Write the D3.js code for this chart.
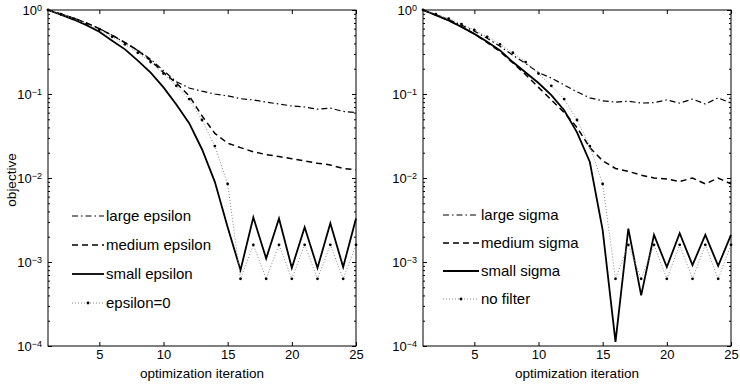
<!DOCTYPE html>
<html lang="en">
<head>
<meta charset="UTF-8">
<title>objective vs optimization iteration</title>
<script src="https://cdnjs.cloudflare.com/ajax/libs/d3/7.8.5/d3.min.js"></script>
<style>
    body { margin: 0; background: #fff; font-family: 'Liberation Sans', Arial, sans-serif; }
    .axis path { display: none; }
    .axis line { stroke: #000; stroke-width: 1; }
    .axis text { font-family: 'Liberation Sans', Arial, sans-serif; font-size: 13px; fill: #000; }
    .lbl { font-size: 13.5px; fill: #000; }
    .leg { font-size: 15px; fill: #000; }
</style>
</head>
<body>
<div id="chart"></div>
<script>
    const iterations = [1, 2, 3, 4, 5, 6, 7, 8, 9, 10, 11, 12, 13, 14, 15, 16, 17, 18, 19, 20, 21, 22, 23, 24, 25];
    const xTicks = [5, 10, 15, 20, 25];
    const yDecades = [1e-4, 1e-3, 1e-2, 1e-1, 1];
    const yExponents = ["\u22124", "\u22123", "\u22122", "\u22121", "0"];

    // left panel: epsilon
    const largeEpsilon = [1.0, 0.9, 0.8, 0.7, 0.6, 0.5, 0.41, 0.33, 0.26, 0.19, 0.14, 0.118, 0.108, 0.1, 0.095, 0.088, 0.085, 0.08, 0.076, 0.072, 0.07, 0.066, 0.068, 0.062, 0.06];
    const mediumEpsilon = [1.0, 0.9, 0.8, 0.7, 0.6, 0.5, 0.41, 0.33, 0.25, 0.18, 0.135, 0.095, 0.055, 0.034, 0.026, 0.023, 0.0205, 0.019, 0.018, 0.017, 0.016, 0.015, 0.0143, 0.013, 0.0125];
    const smallEpsilon = [1.0, 0.88, 0.77, 0.66, 0.55, 0.43, 0.34, 0.25, 0.18, 0.12, 0.075, 0.045, 0.022, 0.009, 0.0026, 0.0008, 0.0034, 0.0011, 0.0033, 0.00085, 0.0026, 0.00085, 0.0029, 0.00087, 0.0033];
    const zeroEpsilon = [1.0, 0.89, 0.79, 0.68, 0.58, 0.48, 0.39, 0.31, 0.24, 0.175, 0.125, 0.087, 0.049, 0.024, 0.0085, 0.00063, 0.0016, 0.00063, 0.0016, 0.00063, 0.0016, 0.00063, 0.0016, 0.00063, 0.0016];

    // right panel: sigma
    const largeSigma = [1.0, 0.88, 0.77, 0.66, 0.56, 0.46, 0.37, 0.29, 0.23, 0.18, 0.155, 0.128, 0.106, 0.09, 0.083, 0.08, 0.082, 0.078, 0.079, 0.085, 0.078, 0.087, 0.076, 0.09, 0.078];
    const mediumSigma = [1.0, 0.87, 0.75, 0.63, 0.52, 0.41, 0.32, 0.235, 0.17, 0.12, 0.085, 0.06, 0.04, 0.023, 0.016, 0.013, 0.012, 0.0108, 0.01, 0.0097, 0.0091, 0.01, 0.0085, 0.01, 0.0085];
    const smallSigma = [1.0, 0.87, 0.75, 0.63, 0.52, 0.42, 0.33, 0.24, 0.18, 0.135, 0.097, 0.064, 0.035, 0.0155, 0.0024, 0.000112, 0.0025, 0.0004, 0.0021, 0.00087, 0.0022, 0.00092, 0.0021, 0.0009, 0.0021];
    const noFilter = [1.0, 0.89, 0.79, 0.68, 0.58, 0.48, 0.39, 0.31, 0.24, 0.175, 0.125, 0.087, 0.049, 0.024, 0.0085, 0.00063, 0.0016, 0.00063, 0.0016, 0.00063, 0.0016, 0.00063, 0.0016, 0.00063, 0.0016];

    const styles = {
        dashdot: { stroke: "#000", width: 1.2, dash: "6,3,1.5,3" },
        dashed:  { stroke: "#000", width: 1.5, dash: "6,4" },
        solid:   { stroke: "#000", width: 1.8, dash: null },
        dotted:  { stroke: "#888", width: 1, dash: "1,2", dots: true }
    };

    const width = 740, height = 386;
    const svg = d3.select("#chart").append("svg")
        .attr("width", width)
        .attr("height", height);

    function drawPanel(opts) {
        const x = d3.scaleLinear().domain([1, 25]).range([opts.left, opts.right]);
        const y = d3.scaleLog().domain([1e-4, 1]).range([346, 10]);
        const g = svg.append("g");

        const minors = [];
        yDecades.slice(0, 4).forEach(d => {
            for (let k = 2; k <= 9; k++) minors.push(d * k);
        });

        // ticks, pointing inward on all four sides
        g.append("g").attr("class", "axis")
            .attr("transform", `translate(0,${y.range()[0]})`)
            .call(d3.axisBottom(x).tickValues(xTicks).tickSize(-4).tickPadding(4).tickFormat(d3.format("d")));
        g.append("g").attr("class", "axis")
            .attr("transform", `translate(0,${y.range()[1]})`)
            .call(d3.axisTop(x).tickValues(xTicks).tickSize(-4).tickFormat(""));

        const yl = g.append("g").attr("class", "axis")
            .attr("transform", `translate(${opts.left},0)`)
            .call(d3.axisLeft(y).tickValues(yDecades).tickSize(-4).tickPadding(9).tickFormat(""));
        yl.selectAll(".tick text").each(function(d, i) {
            const t = d3.select(this).attr("dy", "0.32em").attr("x", -6);
            t.append("tspan").text("10");
            t.append("tspan").attr("dy", "-0.45em").style("font-size", "9px").text(yExponents[i]);
        });
        g.append("g").attr("class", "axis")
            .attr("transform", `translate(${opts.left},0)`)
            .call(d3.axisLeft(y).tickValues(minors).tickSize(-2).tickFormat(""));
        g.append("g").attr("class", "axis")
            .attr("transform", `translate(${opts.right},0)`)
            .call(d3.axisRight(y).tickValues(yDecades).tickSize(-4).tickFormat(""));
        g.append("g").attr("class", "axis")
            .attr("transform", `translate(${opts.right},0)`)
            .call(d3.axisRight(y).tickValues(minors).tickSize(-2).tickFormat(""));

        g.append("rect")
            .attr("x", opts.left).attr("y", y.range()[1])
            .attr("width", opts.right - opts.left)
            .attr("height", y.range()[0] - y.range()[1])
            .attr("fill", "none").attr("stroke", "#000").attr("stroke-width", 1);

        const line = d3.line().x((d, i) => x(iterations[i])).y(d => y(d));

        opts.series.forEach(s => {
            const st = styles[s.style];
            g.append("path")
                .datum(s.values)
                .attr("d", line)
                .attr("fill", "none")
                .attr("stroke", st.stroke)
                .attr("stroke-width", st.width)
                .attr("stroke-dasharray", st.dash);
            if (st.dots) {
                g.selectAll(null).data(s.values).enter().append("circle")
                    .attr("cx", (d, i) => x(iterations[i]))
                    .attr("cy", d => y(d))
                    .attr("r", 1.4)
                    .attr("fill", "#000");
            }
        });

        // legend
        opts.series.forEach((s, i) => {
            const st = styles[s.style];
            const ly = opts.legY + i * opts.legStep;
            g.append("line")
                .attr("x1", opts.legX1).attr("x2", opts.legX2)
                .attr("y1", ly).attr("y2", ly)
                .attr("stroke", st.stroke)
                .attr("stroke-width", st.width)
                .attr("stroke-dasharray", st.dash);
            if (st.dots) {
                g.append("circle")
                    .attr("cx", (opts.legX1 + opts.legX2) / 2).attr("cy", ly)
                    .attr("r", 1.4).attr("fill", "#000");
            }
            g.append("text").attr("class", "leg")
                .attr("x", opts.legX2 + 2).attr("y", ly).attr("dy", "0.35em")
                .text(s.name);
        });

        g.append("text").attr("class", "lbl")
            .attr("x", (opts.left + opts.right) / 2).attr("y", 378)
            .attr("text-anchor", "middle")
            .text("optimization iteration");

        if (opts.ylabel) {
            g.append("text").attr("class", "lbl")
                .attr("transform", `translate(16,180)rotate(-90)`)
                .attr("text-anchor", "middle")
                .text(opts.ylabel);
        }
    }

    drawPanel({
        left: 48, right: 356, ylabel: "objective",
        legX1: 72, legX2: 104, legY: 216, legStep: 29,
        series: [
            { name: "large epsilon", values: largeEpsilon, style: "dashdot" },
            { name: "medium epsilon", values: mediumEpsilon, style: "dashed" },
            { name: "small epsilon", values: smallEpsilon, style: "solid" },
            { name: "epsilon=0", values: zeroEpsilon, style: "dotted" }
        ]
    });

    drawPanel({
        left: 423, right: 731, ylabel: null,
        legX1: 443, legX2: 479, legY: 215, legStep: 28,
        series: [
            { name: "large sigma", values: largeSigma, style: "dashdot" },
            { name: "medium sigma", values: mediumSigma, style: "dashed" },
            { name: "small sigma", values: smallSigma, style: "solid" },
            { name: "no filter", values: noFilter, style: "dotted" }
        ]
    });
</script>
</body>
</html>
